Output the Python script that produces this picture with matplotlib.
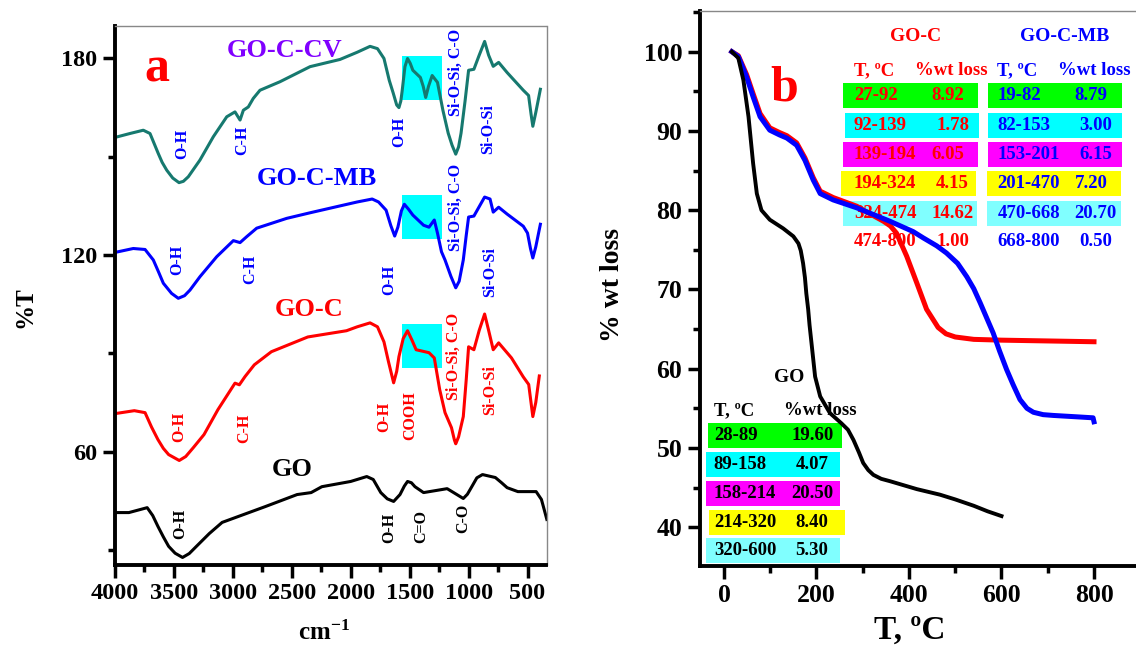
import matplotlib
matplotlib.use('Agg')
import matplotlib.pyplot as plt
from matplotlib.patches import Rectangle
from matplotlib.ticker import MultipleLocator

plt.rcParams['font.family'] = ['Liberation Serif', 'DejaVu Serif']
plt.rcParams['font.weight'] = 'bold'
plt.rcParams['mathtext.fontset'] = 'custom'
plt.rcParams['mathtext.rm'] = 'Liberation Serif:bold'
plt.rcParams['mathtext.it'] = 'Liberation Serif:bold'
plt.rcParams['mathtext.bf'] = 'Liberation Serif:bold'

# ---------------- FTIR spectra (panel a) ----------------
cv_x = [4000, 3873, 3760, 3703, 3633, 3600, 3561, 3510, 3457, 3420, 3378, 3279, 3166, 3052,
        2982, 2939, 2911, 2869, 2827, 2770, 2600, 2345, 2091, 1945, 1836, 1773, 1718, 1673,
        1640, 1610, 1591, 1575, 1564, 1540, 1518, 1495, 1473, 1409, 1385, 1364, 1340, 1309,
        1264, 1218, 1173, 1140, 1109, 1085, 1064, 1030, 1000, 955, 910, 864, 830, 791, 745,
        673, 536, 491, 470, 455, 430, 391]
cv_y = [155.9, 157.1, 158.1, 157.1, 151.0, 148.3, 145.9, 143.5, 142.1, 142.5, 143.9, 149.0,
        156.1, 162.2, 163.7, 161.2, 164.2, 165.2, 167.8, 170.3, 172.9, 177.5, 179.7, 181.9,
        183.7, 183.0, 180.0, 173.3, 169.5, 165.8, 165.0, 167.0, 170.0, 177.5, 180.0, 178.5,
        176.4, 174.2, 171.5, 168.1, 171.5, 174.8, 172.7, 164.2, 157.2, 153.5, 150.8, 153.0,
        157.2, 167.0, 176.4, 176.7, 181.0, 185.2, 181.0, 177.6, 178.8, 175.7, 170.3, 168.7,
        163.0, 159.3, 163.5, 170.6]

mb_x = [4000, 3845, 3745, 3675, 3630, 3590, 3520, 3463, 3410, 3364, 3279, 3137, 2996, 2939,
        2883, 2798, 2543, 2345, 2091, 1945, 1818, 1764, 1700, 1660, 1627, 1600, 1570, 1545,
        1510, 1473, 1382, 1336, 1291, 1264, 1230, 1200, 1150, 1109, 1080, 1045, 1020, 1000,
        955, 864, 818, 791, 745, 673, 536, 500, 475, 455, 430, 391]
mb_y = [120.8, 122.0, 121.7, 118.5, 114.8, 111.4, 108.3, 106.8, 107.6, 109.3, 113.4, 119.5,
        124.4, 123.8, 125.6, 128.2, 131.2, 132.9, 135.0, 136.2, 137.1, 136.2, 133.7, 129.0,
        125.8, 128.5, 133.5, 135.5, 134.0, 132.2, 129.1, 128.5, 130.7, 126.7, 121.0, 118.5,
        113.5, 110.0, 112.0, 118.5, 126.0, 131.6, 131.9, 137.7, 137.1, 133.1, 134.6, 132.5,
        128.8, 126.7, 122.0, 119.1, 122.5, 129.4]

goc_x = [4000, 3836, 3745, 3690, 3636, 3590, 3545, 3455, 3400, 3336, 3245, 3127, 2982, 2945,
         2897, 2818, 2673, 2364, 2036, 1945, 1836, 1773, 1718, 1680, 1636, 1610, 1591, 1555,
         1518, 1480, 1445, 1336, 1291, 1245, 1200, 1145, 1120, 1109, 1085, 1045, 1020, 1000,
         955, 910, 864, 830, 791, 745, 636, 536, 490, 455, 430, 400]
goc_y = [71.6, 72.5, 71.9, 67.5, 63.7, 61.0, 59.1, 57.3, 58.5, 61.2, 65.2, 72.8, 80.9, 80.4,
         82.9, 86.5, 90.5, 95.0, 96.9, 98.1, 99.3, 98.1, 93.5, 87.5, 81.0, 84.5, 89.0, 94.5,
         96.9, 94.0, 91.1, 90.2, 88.6, 78.9, 71.9, 67.3, 63.5, 62.4, 64.5, 70.7, 82.0, 92.0,
         91.1, 97.0, 102.0, 97.0, 91.1, 93.2, 88.6, 82.8, 80.5, 70.7, 75.0, 83.1]

go_x = [4000, 3882, 3727, 3680, 3636, 3590, 3545, 3490, 3427, 3370, 3309, 3200, 3091, 2909,
        2727, 2455, 2336, 2245, 2000, 1864, 1809, 1745, 1690, 1636, 1582, 1545, 1518, 1485,
        1455, 1382, 1182, 1127, 1045, 1010, 973, 930, 882, 773, 720, 673, 582, 427, 382, 360,
        336]
go_y = [41.4, 41.4, 42.9, 40.5, 37.2, 34.0, 31.1, 29.0, 27.7, 28.9, 31.1, 35.0, 38.4, 40.8,
        43.2, 46.9, 47.5, 49.3, 50.9, 52.4, 51.5, 47.5, 45.6, 44.8, 46.9, 49.5, 50.9, 50.5,
        49.3, 47.5, 48.7, 47.5, 45.7, 47.0, 49.3, 52.0, 53.0, 52.1, 50.5, 49.0, 47.8, 47.8,
        45.4, 42.5, 39.3]

# ---------------- TGA curves (panel b) ----------------
tga_go_t = [17, 31, 42, 53, 63, 71, 81, 99, 128, 150, 161, 166, 171, 175, 178, 182, 185, 190,
            197, 208, 229, 254, 268, 280, 292, 301, 312, 323, 340, 359, 417, 467, 500, 540, 570,
            600]
tga_go_w = [100, 99.2, 96.4, 91.8, 85.9, 82.1, 80.0, 78.8, 77.7, 76.7, 75.8, 74.9, 73.3, 71.5,
            69.5, 67.5, 65.5, 62.8, 59.0, 56.5, 54.4, 53.1, 52.3, 51.0, 49.4, 48.1, 47.2, 46.6,
            46.1, 45.8, 44.8, 44.1, 43.5, 42.7, 42.0, 41.4]

tga_goc_t = [17, 31, 49, 63, 78, 99, 120, 136, 157, 175, 193, 208, 236, 287, 320, 345, 360,
             373, 395, 417, 438, 463, 480, 500, 540, 600, 700, 800]
tga_goc_w = [100, 99.5, 97.1, 94.7, 92.2, 90.4, 89.8, 89.4, 88.5, 86.6, 84.1, 82.4, 81.6, 80.5,
             79.4, 78.6, 78.0, 77.1, 74.2, 70.8, 67.5, 65.2, 64.4, 64.0, 63.7, 63.6, 63.5, 63.4]

tga_mb_t = [17, 31, 49, 63, 78, 99, 120, 136, 157, 175, 193, 208, 236, 287, 359, 409, 431, 460,
            481, 505, 525, 540, 554, 568, 582, 596, 611, 625, 640, 655, 669, 690, 712, 770, 798,
            800]
tga_mb_w = [100, 99.4, 96.8, 94.3, 91.8, 90.1, 89.5, 89.1, 88.2, 86.3, 83.8, 82.1, 81.3, 80.3,
            78.6, 77.3, 76.5, 75.5, 74.6, 73.3, 71.6, 70.1, 68.3, 66.4, 64.5, 62.2, 59.9, 58.0,
            56.1, 55.0, 54.5, 54.2, 54.1, 53.9, 53.8, 53.3]

# tables of panel b
goc_range = ['27-92', '92-139', '139-194', '194-324', '324-474', '474-800']
goc_loss = ['8.92', '1.78', '6.05', '4.15', '14.62', '1.00']
mb_range = ['19-82', '82-153', '153-201', '201-470', '470-668', '668-800']
mb_loss = ['8.79', '3.00', '6.15', '7.20', '20.70', '0.50']
go_range = ['28-89', '89-158', '158-214', '214-320', '320-600']
go_loss = ['19.60', '4.07', '20.50', '8.40', '5.30']
row_colors = ['#00ff00', '#00ffff', '#ff00ff', '#ffff00', '#80ffff', None]

fig = plt.figure(figsize=(11.36, 6.48), dpi=100)


def style_axes(ax, lsize):
    for s in ['top', 'right']:
        ax.spines[s].set_color('#888888')
        ax.spines[s].set_linewidth(1.0)
    for s in ['left', 'bottom']:
        ax.spines[s].set_linewidth(2.8)
    ax.tick_params(which='major', direction='out', length=9, width=2.5,
                   labelsize=lsize, pad=4)
    ax.tick_params(which='minor', direction='out', length=5, width=2.5)


# ======================= panel a =======================
ax1 = fig.add_axes([115 / 1136, 1 - 565 / 648, 431.5 / 1136, 539.3 / 648])
ax1.plot(cv_x, cv_y, color='#16796f', lw=2.2)
ax1.plot(mb_x, mb_y, color='#0000ff', lw=2.2)
ax1.plot(goc_x, goc_y, color='#ff0000', lw=2.2)
ax1.plot(go_x, go_y, color='black', lw=2.2)
ax1.set_xlim(4000, 339)
ax1.set_ylim(25.4, 190)
ax1.xaxis.set_major_locator(MultipleLocator(500))
ax1.xaxis.set_minor_locator(MultipleLocator(250))
ax1.yaxis.set_major_locator(MultipleLocator(60))
ax1.yaxis.set_minor_locator(MultipleLocator(30))
style_axes(ax1, 17.5)

for y0, y1 in [(167.2, 180.6), (124.9, 138.3), (85.6, 99.0)]:
    ax1.add_patch(Rectangle((1564, y0), 1227 - 1564, y1 - y0, color='#00ffff', lw=0, zorder=1))

ax1.text(3645, 172.9, 'a', color='red', fontsize=36, ha='center', va='baseline')
ax1.text(2558, 180.5, 'GO-C-CV', color='#8000ff', fontsize=19, ha='center', va='baseline')
ax1.text(2285, 141.5, 'GO-C-MB', color='#0000ff', fontsize=19, ha='center', va='baseline')
ax1.text(2349, 101.4, 'GO-C', color='#ff0000', fontsize=19, ha='center', va='baseline')
ax1.text(2494, 52.6, 'GO', color='black', fontsize=19, ha='center', va='baseline')

band_labels = [
    ('O-H', 3427, 154.0, '#0000ff'), ('C-H', 2918, 155.0, '#0000ff'),
    ('O-H', 1591, 157.5, '#0000ff'), ('Si-O-Si, C-O', 1109, 175.6, '#0000ff'),
    ('Si-O-Si', 836, 158.4, '#0000ff'),
    ('O-H', 3473, 118.5, '#0000ff'), ('C-H', 2855, 115.7, '#0000ff'),
    ('O-H', 1673, 112.4, '#0000ff'), ('Si-O-Si, C-O', 1109, 134.6, '#0000ff'),
    ('Si-O-Si', 818, 114.8, '#0000ff'),
    ('O-H', 3455, 67.6, '#ff0000'), ('C-H', 2900, 67.0, '#ff0000'),
    ('O-H', 1718, 70.5, '#ff0000'), ('COOH', 1491, 71.0, '#ff0000'),
    ('Si-O-Si, C-O', 1127, 89.0, '#ff0000'), ('Si-O-Si', 818, 78.9, '#ff0000'),
    ('O-H', 3445, 37.8, 'black'), ('O-H', 1673, 36.8, 'black'),
    ('C=O', 1400, 37.2, 'black'), ('C-O', 1045, 39.6, 'black'),
]
for s, x, y, c in band_labels:
    ax1.text(x, y, s, color=c, fontsize=11.5, rotation=90, ha='center', va='center')

fig.text(0.022, 0.526, '%T', rotation=90, fontsize=18, ha='center', va='center')
fig.text(0.285, 0.005, 'cm$^{-1}$', fontsize=18, ha='center', va='bottom')

# ======================= panel b =======================
ax2 = fig.add_axes([700.4 / 1136, 1 - 566 / 648, 1 - 700.4 / 1136, 554.7 / 648])
ax2.plot(tga_goc_t, tga_goc_w, color='#ff0000', lw=3.6, zorder=3)
ax2.plot(tga_mb_t, tga_mb_w, color='#0000ff', lw=3.6, zorder=3)
ax2.plot(tga_go_t, tga_go_w, color='black', lw=2.8, zorder=3)
ax2.set_xlim(-51, 890.8)
ax2.set_ylim(35.1, 105.1)
ax2.xaxis.set_major_locator(MultipleLocator(200))
ax2.xaxis.set_minor_locator(MultipleLocator(100))
ax2.yaxis.set_major_locator(MultipleLocator(10))
ax2.yaxis.set_minor_locator(MultipleLocator(5))
style_axes(ax2, 18.5)
ax2.spines['right'].set_visible(False)

ax2.text(131, 93.9, 'b', color='red', fontsize=36, ha='center', va='baseline')


def table_row(ax, box, yc, h, color, items, tcolor):
    if color is not None:
        ax.add_patch(Rectangle((box[0], yc - h / 2), box[1] - box[0], h,
                               color=color, lw=0, zorder=1))
    for tx, s in items:
        ax.text(tx, yc, s, color=tcolor, fontsize=13.5, ha='left', va='center', zorder=2)


# GO-C table
ax2.text(415, 101.3, 'GO-C', color='#ff0000', fontsize=14, ha='center', va='baseline')
ax2.text(281, 97.05, 'T, ºC', color='#ff0000', fontsize=13.5, va='baseline')
ax2.text(412, 97.05, '%wt loss', color='#ff0000', fontsize=13.5, va='baseline')
row_y = [94.53, 90.70, 87.04, 83.38, 79.60, 76.0]
goc_box = [(257.7, 548.9), (260.6, 551.1), (257.0, 548.9), (254.0, 543.8), (257.7, 547.4), (0, 0)]
goc_lx = [449, 460, 449, 458, 449, 460]
for i in range(6):
    table_row(ax2, goc_box[i], row_y[i], 3.15, row_colors[i],
              [(281, goc_range[i]), (goc_lx[i], goc_loss[i])], '#ff0000')

# GO-C-MB table
ax2.text(736, 101.3, 'GO-C-MB', color='#0000ff', fontsize=14, ha='center', va='baseline')
ax2.text(591, 97.05, 'T, ºC', color='#0000ff', fontsize=13.5, va='baseline')
ax2.text(723, 97.05, '%wt loss', color='#0000ff', fontsize=13.5, va='baseline')
mb_box = [(570.8, 861.3), (570.8, 861.3), (570.8, 861.3), (567.9, 857.7), (567.9, 857.7), (0, 0)]
mb_lx = [758, 769, 769, 758, 758, 769]
for i in range(6):
    table_row(ax2, mb_box[i], row_y[i], 3.15, row_colors[i],
              [(591, mb_range[i]), (mb_lx[i], mb_loss[i])], '#0000ff')

# GO table
ax2.text(142, 58.3, 'GO', color='black', fontsize=14, ha='center', va='baseline')
ax2.text(-22, 54.1, 'T, ºC', color='black', fontsize=13.5, va='baseline')
ax2.text(129, 54.1, '%wt loss', color='black', fontsize=13.5, va='baseline')
go_row_y = [51.55, 47.87, 44.23, 40.54, 37.07]
go_box = [(-34.3, 255.5), (-38.7, 251.8), (-38.7, 251.8), (-31.4, 260.6), (-38.7, 251.8)]
go_lx = [146, 155, 146, 155, 155]
for i in range(5):
    table_row(ax2, go_box[i], go_row_y[i], 3.14, row_colors[i],
              [(-22, go_range[i]), (go_lx[i], go_loss[i])], 'black')

fig.text(0.539, 0.56, '% wt loss', rotation=90, fontsize=20, ha='center', va='center')
fig.text(0.801, 0.003, 'T, ºC', fontsize=24, ha='center', va='bottom')

fig.savefig('out.png', dpi=100)
